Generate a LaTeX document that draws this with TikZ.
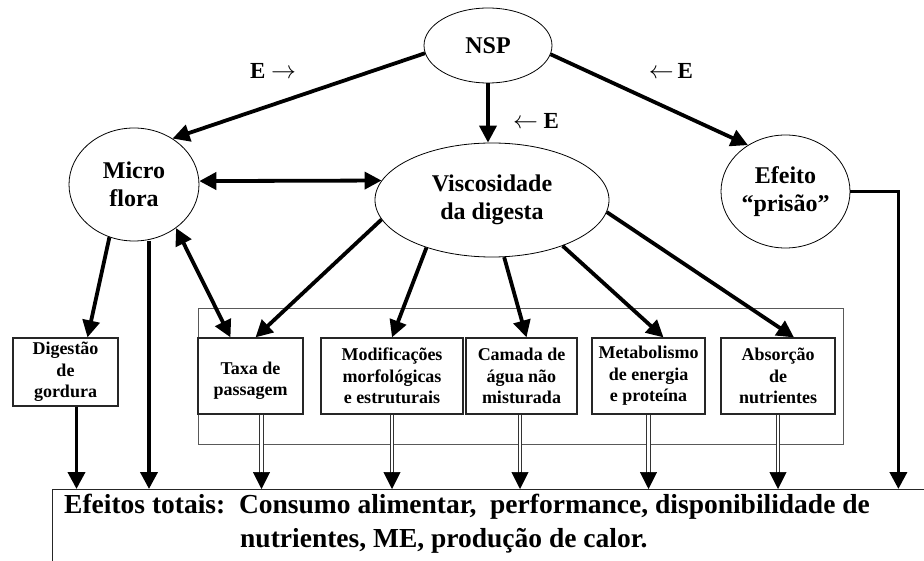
\documentclass[tikz,border=0pt]{standalone}
\usepackage{fontspec}
\setmainfont{Liberation Serif}
\usetikzlibrary{shapes.geometric,arrows.meta}

\begin{document}
\begin{tikzpicture}[x=1pt,y=-1pt,
  oval/.style={draw, ellipse, inner sep=0pt, line width=0.8pt, align=center,
    font=\fontsize{24}{28}\selectfont\bfseries},
  box/.style={draw=black!85, line width=1.2pt, rectangle, inner sep=0pt, align=center,
    font=\fontsize{18}{21.5}\selectfont\bfseries},
  heavy/.style={line width=3.8pt, -{Triangle[length=17pt,width=17pt]}},
  heavy2/.style={line width=3.8pt, {Triangle[length=17pt,width=17pt]}-{Triangle[length=17pt,width=17pt]}},
  dbl/.style={double, double distance=2.4pt, line width=1pt, draw=black!80},
  tip/.style={line width=0.5pt, -{Triangle[length=17pt,width=17pt]}},
  lbl/.style={inner sep=0pt, font=\fontsize{23}{26}\selectfont\bfseries},
  total/.style={inner sep=0pt, anchor=base west, font=\fontsize{27.5}{32}\selectfont\bfseries}
]
\useasboundingbox (0,0) rectangle (924,561);
\clip (0,0) rectangle (924,561);

% outer frame around the five effect boxes
\node[draw=black!65, line width=1.3pt, anchor=north west, inner sep=0pt,
  minimum width=645pt, minimum height=136pt] (grp) at (198,308) {};

% total effects panel (runs past the page edge)
\node[draw=black!85, line width=1.1pt, anchor=north west, inner sep=0pt,
  minimum width=900pt, minimum height=140pt] (tot) at (52,489) {};

% ellipses
\node[oval, minimum width=128pt, minimum height=75pt] (nsp) at (488,45.5) {NSP};
\node[oval, minimum width=130pt, minimum height=113pt] (micro) at (134,184.5) {Micro\\flora};
\node[oval, minimum width=234pt, minimum height=114pt] (visc) at (492,200) {Viscosidade\\da digesta};
\node[oval, minimum width=129pt, minimum height=113pt] (efeito) at (785.5,191.5) {Efeito\\“prisão”};

% boxes
\node[box, minimum width=105pt, minimum height=68pt] (dig) at (65.5,372) {Digestão\\de\\gordura};
\node[box, minimum width=105pt, minimum height=76pt] (taxa) at (250.5,376) {\rule{0pt}{22pt}Taxa de\\passagem};
\node[box, minimum width=142pt, minimum height=76pt] (mod) at (392,376) {Modificações\\morfológicas\\e estruturais};
\node[box, minimum width=111pt, minimum height=76pt] (cam) at (521.5,376) {Camada de\\água não\\misturada};
\node[box, minimum width=113pt, minimum height=76pt] (met) at (648.5,376) {Metabolismo\\de energia\\e proteína};
\node[box, minimum width=114pt, minimum height=76pt] (abs) at (778,376) {Absorção\\de\\nutrientes};

% E labels
\node[lbl] (e1) at (273,71) {E $\rightarrow$};
\node[lbl] (e2) at (536,121) {$\leftarrow$ E};
\node[lbl] (e3) at (671,71) {$\leftarrow$\,E};

% heavy connectors
\draw[heavy] (nsp.187) -- (micro.50);
\draw[heavy] (nsp.south) -- (nsp.south |- visc.north);
\draw[heavy] (nsp.352) -- (efeito.129);
\draw[heavy2] (micro.3) -- (visc.170);
\draw[heavy] (efeito.east) -| ([xshift=48pt]efeito.east |- tot.north);
\draw[heavy] (micro.245) -- ([xshift=22pt]dig.north);
\draw[heavy] ([xshift=15pt]micro.south) -- ([xshift=15pt]micro.south |- tot.north);
\draw[heavy2] (micro.314) -- ([xshift=-20pt]taxa.north);
\draw[heavy] (visc.190) -- ([xshift=5pt]taxa.north);
\draw[heavy] (visc.216) -- (mod.north);
\draw[heavy] (visc.282) -- ([xshift=5pt]cam.north);
\draw[heavy] (visc.327) -- ([xshift=15pt]met.north);
\draw[heavy] (visc.354) -- ([xshift=16pt]abs.north);
\draw[heavy] ([xshift=11pt]dig.south) -- ([xshift=11pt]dig.south |- tot.north);

% double-line connectors into the total effects panel
\draw[dbl] ([xshift=11pt]taxa.south) -- ([xshift=11pt,yshift=16pt]taxa.south |- tot.north);
\draw[tip] ([xshift=11pt,yshift=17pt]taxa.south |- tot.north) -- ([xshift=11pt]taxa.south |- tot.north);
\draw[dbl] (mod.south) -- ([yshift=16pt]mod.south |- tot.north);
\draw[tip] ([yshift=17pt]mod.south |- tot.north) -- (mod.south |- tot.north);
\draw[dbl] ([xshift=-1.5pt]cam.south) -- ([xshift=-1.5pt,yshift=16pt]cam.south |- tot.north);
\draw[tip] ([xshift=-1.5pt,yshift=17pt]cam.south |- tot.north) -- ([xshift=-1.5pt]cam.south |- tot.north);
\draw[dbl] (met.south) -- ([yshift=16pt]met.south |- tot.north);
\draw[tip] ([yshift=17pt]met.south |- tot.north) -- (met.south |- tot.north);
\draw[dbl] (abs.south) -- ([yshift=16pt]abs.south |- tot.north);
\draw[tip] ([yshift=17pt]abs.south |- tot.north) -- (abs.south |- tot.north);

% total effects text
\node[total] (t1) at (64,513) {Efeitos totais:\ \ Consumo alimentar,\ \ performance, disponibilidade de};
\node[total] (t2) at (240,547) {nutrientes, ME, produção de calor.};
\end{tikzpicture}
\end{document}
